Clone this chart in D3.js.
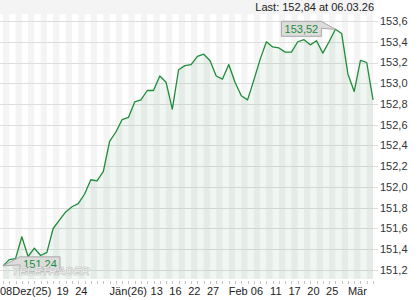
<!DOCTYPE html>
<html>
<head>
<meta charset="utf-8">
<script src="https://cdn.jsdelivr.net/npm/d3@7"></script>
<style>
  body { margin: 0; background: #fff; }
  svg { display: block; font-family: "Liberation Sans", Arial, sans-serif; }
</style>
</head>
<body>
<div id="chart"></div>
<script>
// trading days shown on the chart
const dates = [
  "2025-12-08", "2025-12-09", "2025-12-10", "2025-12-11", "2025-12-12",
  "2025-12-15", "2025-12-16", "2025-12-17", "2025-12-18", "2025-12-19",
  "2025-12-22", "2025-12-23", "2025-12-24", "2025-12-26", "2025-12-29",
  "2025-12-30", "2025-12-31", "2026-01-02", "2026-01-05", "2026-01-06",
  "2026-01-07", "2026-01-08", "2026-01-09", "2026-01-12", "2026-01-13",
  "2026-01-14", "2026-01-15", "2026-01-16", "2026-01-20", "2026-01-21",
  "2026-01-22", "2026-01-23", "2026-01-26", "2026-01-27", "2026-01-28",
  "2026-01-29", "2026-02-02", "2026-02-03", "2026-02-04", "2026-02-05",
  "2026-02-06", "2026-02-09", "2026-02-10", "2026-02-11", "2026-02-12",
  "2026-02-13", "2026-02-17", "2026-02-18", "2026-02-19", "2026-02-20",
  "2026-02-23", "2026-02-24", "2026-02-25", "2026-02-26", "2026-02-27",
  "2026-03-02", "2026-03-03", "2026-03-04", "2026-03-05", "2026-03-06"
];

const prices = [
  151.24, 151.30, 151.31, 151.52, 151.33, 151.41, 151.34, 151.37, 151.60, 151.68,
  151.76, 151.81, 151.84, 151.93, 152.07, 152.06, 152.15, 152.44, 152.53, 152.65,
  152.67, 152.82, 152.84, 152.93, 152.93, 153.07, 153.01, 152.75, 153.13, 153.17,
  153.18, 153.26, 153.28, 153.22, 153.07, 153.04, 153.18, 153.01, 152.88, 152.84,
  153.03, 153.23, 153.40, 153.35, 153.34, 153.30, 153.30, 153.40, 153.42, 153.37,
  153.41, 153.29, 153.40, 153.52, 153.48, 153.09, 152.92, 153.22, 153.20, 152.84
];

const dayTickDates = ["2025-12-19", "2025-12-24", "2026-01-13", "2026-01-16", "2026-01-22",
  "2026-01-27", "2026-02-06", "2026-02-11", "2026-02-17", "2026-02-20", "2026-02-25"];
const dayTickLabels = ["19", "24", "13", "16", "22", "27", "06", "11", "17", "20", "25"];

const monthTickDates = ["2025-12-08", "2026-01-02", "2026-02-02", "2026-03-02"];
const monthTickLabels = ["08Dez(25)", "Jän(26)", "Feb", "Mär"];

const yTicks = [151.2, 151.4, 151.6, 151.8, 152.0, 152.2, 152.4, 152.6, 152.8, 153.0, 153.2, 153.4, 153.6];

const lastText = "Last: 152,84 at 06.03.26";

const width = 420, height = 300;
const plot = { left: 0, right: 374, top: 14, bottom: 279 };
const lineColor = "#1e8c3a";
const fmt = (v, n) => v.toFixed(n).replace(".", ",");

const svg = d3.select("#chart").append("svg")
  .attr("width", width)
  .attr("height", height);

const x = d3.scaleLinear().domain([0, dates.length - 1]).range([3, 373]);
const y = d3.scaleLinear().domain([151.2, 153.6]).range([270, 21]);
const idx = d => dates.indexOf(d);

// top band
svg.append("rect")
  .attr("x", 0).attr("y", 0)
  .attr("width", plot.right).attr("height", plot.top)
  .attr("fill", "#f4f4f4");

// day stripes
svg.append("g")
  .selectAll("rect")
  .data(d3.range(0, dates.length - 1, 2))
  .join("rect")
  .attr("x", i => x(i))
  .attr("y", plot.top)
  .attr("width", i => x(i + 1) - x(i))
  .attr("height", plot.bottom - plot.top)
  .attr("fill", "#f4f4f4");

// horizontal grid
svg.append("g")
  .selectAll("line")
  .data(yTicks)
  .join("line")
  .attr("x1", 0).attr("x2", 378)
  .attr("y1", d => Math.round(y(d)) + 0.5)
  .attr("y2", d => Math.round(y(d)) + 0.5)
  .attr("stroke", "#dedede");

// area + line
const area = d3.area()
  .x((d, i) => x(i))
  .y0(plot.bottom)
  .y1(d => y(d));

svg.append("path")
  .datum(prices)
  .attr("d", area)
  .attr("fill", "#2e7d32")
  .attr("fill-opacity", 0.07);

const line = d3.line()
  .x((d, i) => x(i))
  .y(d => y(d));

svg.append("path")
  .datum(prices)
  .attr("d", line)
  .attr("fill", "none")
  .attr("stroke", lineColor)
  .attr("stroke-width", 1.3)
  .attr("stroke-linejoin", "round");

// y labels
svg.append("g")
  .selectAll("text")
  .data(yTicks)
  .join("text")
  .attr("x", 380)
  .attr("y", d => y(d))
  .attr("dy", "0.35em")
  .attr("font-size", 11)
  .attr("fill", "#333")
  .text(d => fmt(d, 1));

// x tick marks
svg.append("g")
  .selectAll("line")
  .data(dates)
  .join("line")
  .attr("x1", (d, i) => Math.round(x(i)) + 0.5)
  .attr("x2", (d, i) => Math.round(x(i)) + 0.5)
  .attr("y1", 281).attr("y2", 284)
  .attr("stroke", "#c4c4c4");

const step = x(1) - x(0);

svg.append("g")
  .selectAll("text")
  .data(dayTickDates)
  .join("text")
  .attr("x", d => x(idx(d)) + step / 2)
  .attr("y", 295)
  .attr("text-anchor", "middle")
  .attr("font-size", 11)
  .attr("fill", "#222")
  .text((d, i) => dayTickLabels[i]);

svg.append("g")
  .selectAll("text")
  .data(monthTickDates)
  .join("text")
  .attr("x", d => idx(d) === 0 ? 0 : x(idx(d)))
  .attr("y", 295)
  .attr("font-size", 11)
  .attr("fill", "#222")
  .text((d, i) => monthTickLabels[i]);

// last value text
svg.append("text")
  .attr("x", 374)
  .attr("y", 11)
  .attr("text-anchor", "end")
  .attr("font-size", 11)
  .attr("fill", "#222")
  .text(lastText);

// callouts for max and min
function callout(i, side) {
  const px = x(i), py = y(prices[i]);
  const w = 40, h = 15;
  const g = svg.append("g");
  let bx, path;
  if (side === "left") {
    bx = px - 14 - w;
    const by = py - 8;
    path = `M${bx},${by}H${bx + w}L${px},${py}L${bx + w},${by + 7}V${by + h}H${bx}Z`;
  } else {
    bx = px + 17;
    const by = py - 9;
    path = `M${bx},${by + 8}L${px},${py}L${bx},${by}H${bx + w}V${by + h}H${bx}Z`;
  }
  g.append("path")
    .attr("d", path)
    .attr("fill", "#dcdcdc")
    .attr("stroke", "#a8a8a8");
  g.append("text")
    .attr("x", bx + w / 2)
    .attr("y", (side === "left" ? py - 8 : py - 9) + h / 2)
    .attr("dy", "0.36em")
    .attr("text-anchor", "middle")
    .attr("font-size", 11)
    .attr("fill", lineColor)
    .text(fmt(prices[i], 2));
}

const maxI = d3.maxIndex(prices);
const minI = d3.minIndex(prices);
callout(maxI, "left");
callout(minI, "right");

// watermark
svg.append("text")
  .attr("x", 12)
  .attr("y", 275)
  .attr("font-size", 11)
  .attr("font-weight", "bold")
  .attr("font-style", "italic")
  .attr("letter-spacing", 0.4)
  .attr("fill", "#f8f8f8")
  .attr("stroke", "#bdbdbd")
  .attr("stroke-width", 0.6)
  .text("TELETRADER");
</script>
</body>
</html>
